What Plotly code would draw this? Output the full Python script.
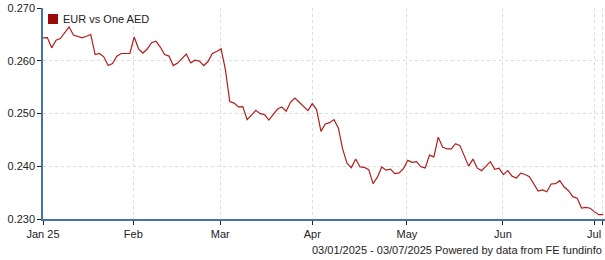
import plotly.graph_objects as go

series_name = "EUR vs One AED"
values = [
    0.26435, 0.26440, 0.26245, 0.26389, 0.26421, 0.26541, 0.26643, 0.26488, 0.26454, 0.26435,
    0.26465, 0.26497, 0.26118, 0.26137, 0.26074, 0.25909, 0.25947, 0.26085, 0.26137, 0.26137,
    0.26137, 0.26450, 0.26226, 0.26146, 0.26222, 0.26342, 0.26370, 0.26260, 0.26118, 0.26089,
    0.25909, 0.25956, 0.26051, 0.26127, 0.25960, 0.26010, 0.25994, 0.25909, 0.25985, 0.26137,
    0.26175, 0.26226, 0.25833, 0.25226, 0.25197, 0.25125, 0.25131, 0.24884, 0.24970, 0.25061,
    0.24998, 0.24979, 0.24875, 0.24979, 0.25084, 0.25122, 0.25042, 0.25216, 0.25292, 0.25213,
    0.25131, 0.25055, 0.25188, 0.25074, 0.24662, 0.24803, 0.24827, 0.24884, 0.24727, 0.24325,
    0.24059, 0.23974, 0.24139, 0.23987, 0.23979, 0.23936, 0.23670, 0.23793, 0.23987, 0.23926,
    0.23945, 0.23860, 0.23873, 0.23955, 0.24112, 0.24074, 0.24087, 0.23989, 0.23968, 0.24211,
    0.24178, 0.24552, 0.24366, 0.24328, 0.24328, 0.24429, 0.24391, 0.24177, 0.24002, 0.24135,
    0.23964, 0.23917, 0.23993, 0.24087, 0.23941, 0.23964, 0.23841, 0.23917, 0.23812, 0.23778,
    0.23869, 0.23844, 0.23803, 0.23660, 0.23528, 0.23552, 0.23518, 0.23664, 0.23670, 0.23727,
    0.23607, 0.23537, 0.23423, 0.23395, 0.23209, 0.23220, 0.23205, 0.23135, 0.23082, 0.23082,
]
day_index = list(range(len(values)))

x_tick_positions = [0, 20.8, 40.8, 62.0, 83.8, 105.9, 126.9, 128.9]
x_tick_labels = ["Jan 25", "Feb", "Mar", "Apr", "May", "Jun", "Jul", ""]
y_tick_values = [0.230, 0.240, 0.250, 0.260, 0.270]
y_tick_labels = ["0.230", "0.240", "0.250", "0.260", "0.270"]
footer_text = "03/01/2025 - 03/07/2025 Powered by data from FE fundinfo"

LINE = "#b01e1e"
AXIS = "#4572A7"
GRID = "#dcdcdc"
FONT = "Liberation Sans, Arial, sans-serif"

fig = go.Figure()
fig.add_trace(go.Scatter(
    x=day_index, y=values, mode="lines",
    line=dict(color=LINE, width=1.2),
    name=series_name, showlegend=False, hoverinfo="skip",
))

W, H = 605, 260
ml, mr, mt, mb = 43, 0, 8, 41
pw = W - ml - mr
ph = H - mt - mb

fig.update_layout(
    width=W, height=H,
    margin=dict(l=ml, r=mr, t=mt, b=mb, pad=0),
    paper_bgcolor="white", plot_bgcolor="white",
    font=dict(family=FONT, size=11, color="#222222"),
    showlegend=False,
)
fig.update_xaxes(
    range=[0, 129.4],
    tickmode="array", tickvals=x_tick_positions, ticktext=x_tick_labels,
    showline=True, linecolor=AXIS, linewidth=1.5,
    ticks="outside", ticklen=4, tickwidth=1, tickcolor="#222222",
    showgrid=True, gridcolor=GRID, griddash="dot", gridwidth=1,
    zeroline=False, tickfont=dict(size=11, color="#222222"),
)
fig.update_yaxes(
    range=[0.230, 0.270],
    tickmode="array", tickvals=y_tick_values, ticktext=y_tick_labels,
    showline=True, linecolor=AXIS, linewidth=1.5,
    ticks="outside", ticklen=4, tickwidth=1, tickcolor="#222222",
    showgrid=True, gridcolor=GRID, griddash="dot", gridwidth=1,
    zeroline=False, tickfont=dict(size=11, color="#222222"),
)

# legend swatch and label
def px_x(px):
    return (px - ml) / pw

def px_y(py):
    return (H - mb - py) / ph

fig.add_shape(type="rect", xref="paper", yref="paper",
              x0=px_x(48), x1=px_x(58), y0=px_y(24), y1=px_y(14),
              fillcolor="#9c0a0a", line=dict(width=0))
fig.add_annotation(xref="paper", yref="paper", x=px_x(61), y=px_y(19),
                   text=series_name, showarrow=False, xanchor="left", yanchor="middle",
                   font=dict(family=FONT, size=11, color="#222222"))
fig.add_annotation(xref="paper", yref="paper", x=px_x(604), y=px_y(249.5),
                   text=footer_text, showarrow=False, xanchor="right", yanchor="middle",
                   font=dict(family=FONT, size=11, color="#222222"))

fig.write_html("out.html")
